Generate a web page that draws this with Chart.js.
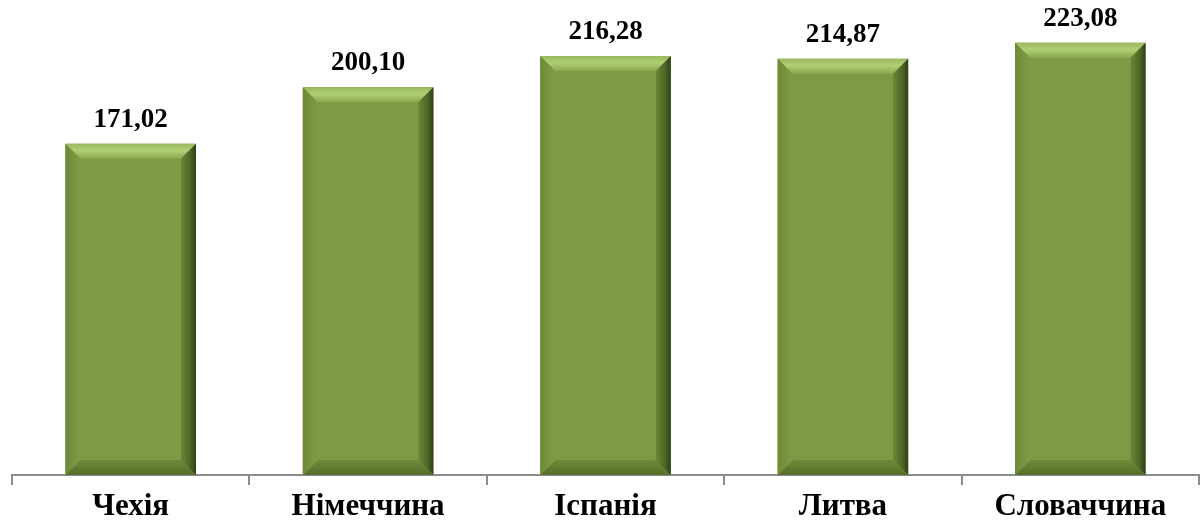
<!DOCTYPE html>
<html>
<head>
<meta charset="utf-8">
<script src="https://cdn.jsdelivr.net/npm/chart.js@4"></script>
<style>
  html, body { margin: 0; padding: 0; background: #fff; }
  #wrap { width: 1203px; height: 528px; }
</style>
</head>
<body>
<div id="wrap"><canvas id="chart"></canvas></div>
<script>
const countries = ['Чехія', 'Німеччина', 'Іспанія', 'Литва', 'Словаччина'];
const values = [171.02, 200.10, 216.28, 214.87, 223.08];
const valueLabels = ['171,02', '200,10', '216,28', '214,87', '223,08'];

// bevel look like the office chart
const bevelPlugin = {
  id: 'bevel',
  afterDatasetsDraw(chart) {
    const ctx = chart.ctx;
    const meta = chart.getDatasetMeta(0);
    meta.data.forEach((bar, i) => {
      const left = bar.x - bar.width / 2;
      const right = bar.x + bar.width / 2;
      const top = bar.y;
      const bottom = bar.base;
      const b = 15;
      ctx.save();
      // top face
      let g = ctx.createLinearGradient(0, top, 0, top + b);
      g.addColorStop(0, '#9ab85e');
      g.addColorStop(0.45, '#b0ce72');
      g.addColorStop(1, '#8ba850');
      ctx.fillStyle = g;
      ctx.beginPath();
      ctx.moveTo(left, top); ctx.lineTo(right, top);
      ctx.lineTo(right - b, top + b); ctx.lineTo(left + b, top + b);
      ctx.closePath(); ctx.fill();
      // bottom face
      g = ctx.createLinearGradient(0, bottom - b, 0, bottom);
      g.addColorStop(0, '#6f8a3a');
      g.addColorStop(1, '#566e2a');
      ctx.fillStyle = g;
      ctx.beginPath();
      ctx.moveTo(left, bottom); ctx.lineTo(right, bottom);
      ctx.lineTo(right - b, bottom - b); ctx.lineTo(left + b, bottom - b);
      ctx.closePath(); ctx.fill();
      // left face
      g = ctx.createLinearGradient(left, 0, left + b, 0);
      g.addColorStop(0, '#6e8a38');
      g.addColorStop(1, '#7f9c45');
      ctx.fillStyle = g;
      ctx.beginPath();
      ctx.moveTo(left, top); ctx.lineTo(left + b, top + b);
      ctx.lineTo(left + b, bottom - b); ctx.lineTo(left, bottom);
      ctx.closePath(); ctx.fill();
      // right face
      g = ctx.createLinearGradient(right - b, 0, right, 0);
      g.addColorStop(0, '#6c8636');
      g.addColorStop(0.6, '#4f6626');
      g.addColorStop(1, '#2f3f17');
      ctx.fillStyle = g;
      ctx.beginPath();
      ctx.moveTo(right, top); ctx.lineTo(right - b, top + b);
      ctx.lineTo(right - b, bottom - b); ctx.lineTo(right, bottom);
      ctx.closePath(); ctx.fill();
      ctx.restore();

      // value text above bar
      ctx.save();
      ctx.fillStyle = '#000';
      ctx.font = 'bold 27px "Liberation Serif", "Times New Roman", serif';
      ctx.textAlign = 'center';
      ctx.textBaseline = 'alphabetic';
      ctx.fillText(valueLabels[i], bar.x, top - 17);
      ctx.restore();
    });
  }
};

new Chart(document.getElementById('chart'), {
  type: 'bar',
  data: {
    labels: countries,
    datasets: [{
      data: values,
      backgroundColor: '#7e9a44',
      borderWidth: 0,
      categoryPercentage: 0.55,
      barPercentage: 1
    }]
  },
  options: {
    responsive: true,
    maintainAspectRatio: false,
    animation: false,
    layout: { padding: { left: 12, right: 4, top: 10, bottom: 0 } },
    plugins: { legend: { display: false }, tooltip: { enabled: false } },
    scales: {
      x: {
        offset: true,
        grid: {
          offset: true,
          drawOnChartArea: false,
          drawTicks: true,
          tickLength: 10,
          color: '#8c8c8c',
          lineWidth: 2
        },
        border: { display: true, color: '#8c8c8c', width: 2 },
        ticks: {
          color: '#000',
          padding: 6,
          font: { family: '"Liberation Serif", "Times New Roman", serif', size: 31, weight: 'bold', lineHeight: 1 }
        }
      },
      y: {
        display: false,
        min: 0,
        max: 240
      }
    }
  },
  plugins: [bevelPlugin]
});
</script>
</body>
</html>
